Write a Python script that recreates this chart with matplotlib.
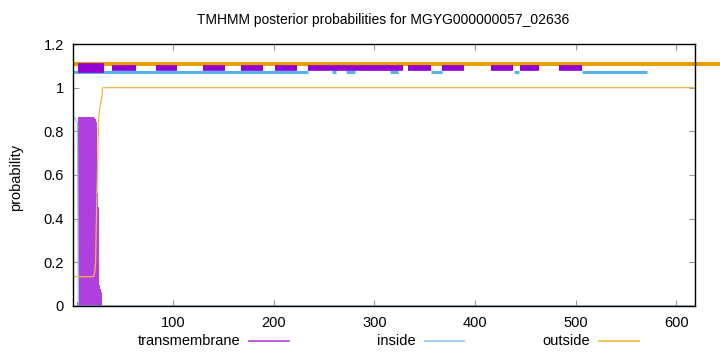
import matplotlib
matplotlib.use("Agg")
import matplotlib.pyplot as plt
from matplotlib.lines import Line2D

plt.rcParams['font.family'] = ['Liberation Sans', 'DejaVu Sans']

title = "TMHMM posterior probabilities for MGYG000000057_02636"
seq_len = 618

# posterior curves (residue position, probability)
tm_pos = [1, 4, 5, 6, 21, 22, 23, 24, 25, 26, 27, 28, 29, 30, 618]
tm_val = [0.0, 0.0, 0.02, 0.864, 0.864, 0.86, 0.855, 0.844, 0.518, 0.453, 0.096, 0.08, 0.065, 0.0, 0.0]

inside_pos = [1, 2, 3, 4, 5, 6, 618]
inside_val = [0.866, 0.862, 0.855, 0.848, 0.84, 0.0, 0.0]

outside_pos = [1, 20, 21, 22, 23, 24, 25, 26, 27, 28, 29, 30, 618]
outside_val = [0.134, 0.134, 0.136, 0.15, 0.2, 0.45, 0.64, 0.85, 0.905, 0.925, 0.95, 1.0, 1.0]

# top annotation bars (start, end) in residues
outside_bar = [(1, 644)]
inside_bars = [(1, 234), (258, 262), (272, 281), (315, 323), (356, 367), (439, 444), (506, 571)]
tm_bars = [(6, 31), (39, 63), (83, 104), (130, 152), (167, 189), (201, 223), (234, 328),
           (333, 356), (367, 389), (416, 438), (445, 464), (483, 506)]
outside_bar_y = 1.11
inside_bar_y = 1.071
tm_bar_y = 1.088

legend_labels = ["transmembrane", "inside", "outside"]
xticks = [100, 200, 300, 400, 500, 600]
yticks = [0, 0.2, 0.4, 0.6, 0.8, 1, 1.2]
ytick_labels = ["0", "0.2", "0.4", "0.6", "0.8", "1", "1.2"]

c_tm = "#9400d3"
c_tm_fill = "#af40de"
c_in = "#56b4e9"
c_out = "#e69f00"

fig = plt.figure(figsize=(7.2, 3.52), dpi=100)
ax = fig.add_axes([0.102, 0.1307, 0.8626, 0.7443])

ax.fill_between(tm_pos, tm_val, 0, step='mid', color=c_tm_fill, linewidth=0, zorder=2)
ax.plot(inside_pos, inside_val, color="#8ec8ec", linewidth=0.9, zorder=3)
ax.plot(outside_pos, outside_val, color="#f0b840", linewidth=0.9, zorder=3)
ax.plot([1, seq_len], [0, 0], color="#4a6a80", linewidth=1.0, zorder=3)

for s, e in outside_bar:
    ax.plot([s, e], [outside_bar_y, outside_bar_y], color=c_out, linewidth=2.9,
            solid_capstyle='butt', clip_on=False, zorder=4)
for s, e in inside_bars:
    ax.plot([s, e], [inside_bar_y, inside_bar_y], color=c_in, linewidth=2.2,
            solid_capstyle='butt', zorder=4)
for i, (s, e) in enumerate(tm_bars):
    lw = 7.0 if i == 0 else 4.1
    ax.plot([s, e], [tm_bar_y, tm_bar_y], color=c_tm, linewidth=lw,
            solid_capstyle='butt', zorder=5)

ax.set_xlim(1, seq_len)
ax.set_ylim(0, 1.2)
ax.set_xticks(xticks)
ax.set_yticks(yticks)
ax.set_yticklabels(ytick_labels)
ax.tick_params(direction='in', length=4, width=0.8, color='#999999',
               top=True, right=True, labelsize=10.5, pad=7)
for sp in ax.spines.values():
    sp.set_linewidth(1.0)
    sp.set_color('black')
    sp.set_zorder(6)

fig.text(0.532, 0.943, title, ha='center', va='center', fontsize=10)
fig.text(0.022, 0.497, "probability", rotation=90, ha='center', va='center', fontsize=10.5)

# legend (gnuplot style: right-justified text followed by sample line)
legend_colors = ["#b040e0", "#8ec8ec", "#f0b840"]
line_starts_px = [249, 424.6, 599]
W, H = 720.0, 352.0
ly = 1 - 341 / H
for lab, col, lx in zip(legend_labels, legend_colors, line_starts_px):
    fig.text((lx - 9) / W, ly, lab, ha='right', va='center', fontsize=10.5)
    fig.add_artist(Line2D([lx / W, (lx + 39.5) / W], [ly, ly], color=col, linewidth=1.2))

fig.savefig("out.png", dpi=100)
